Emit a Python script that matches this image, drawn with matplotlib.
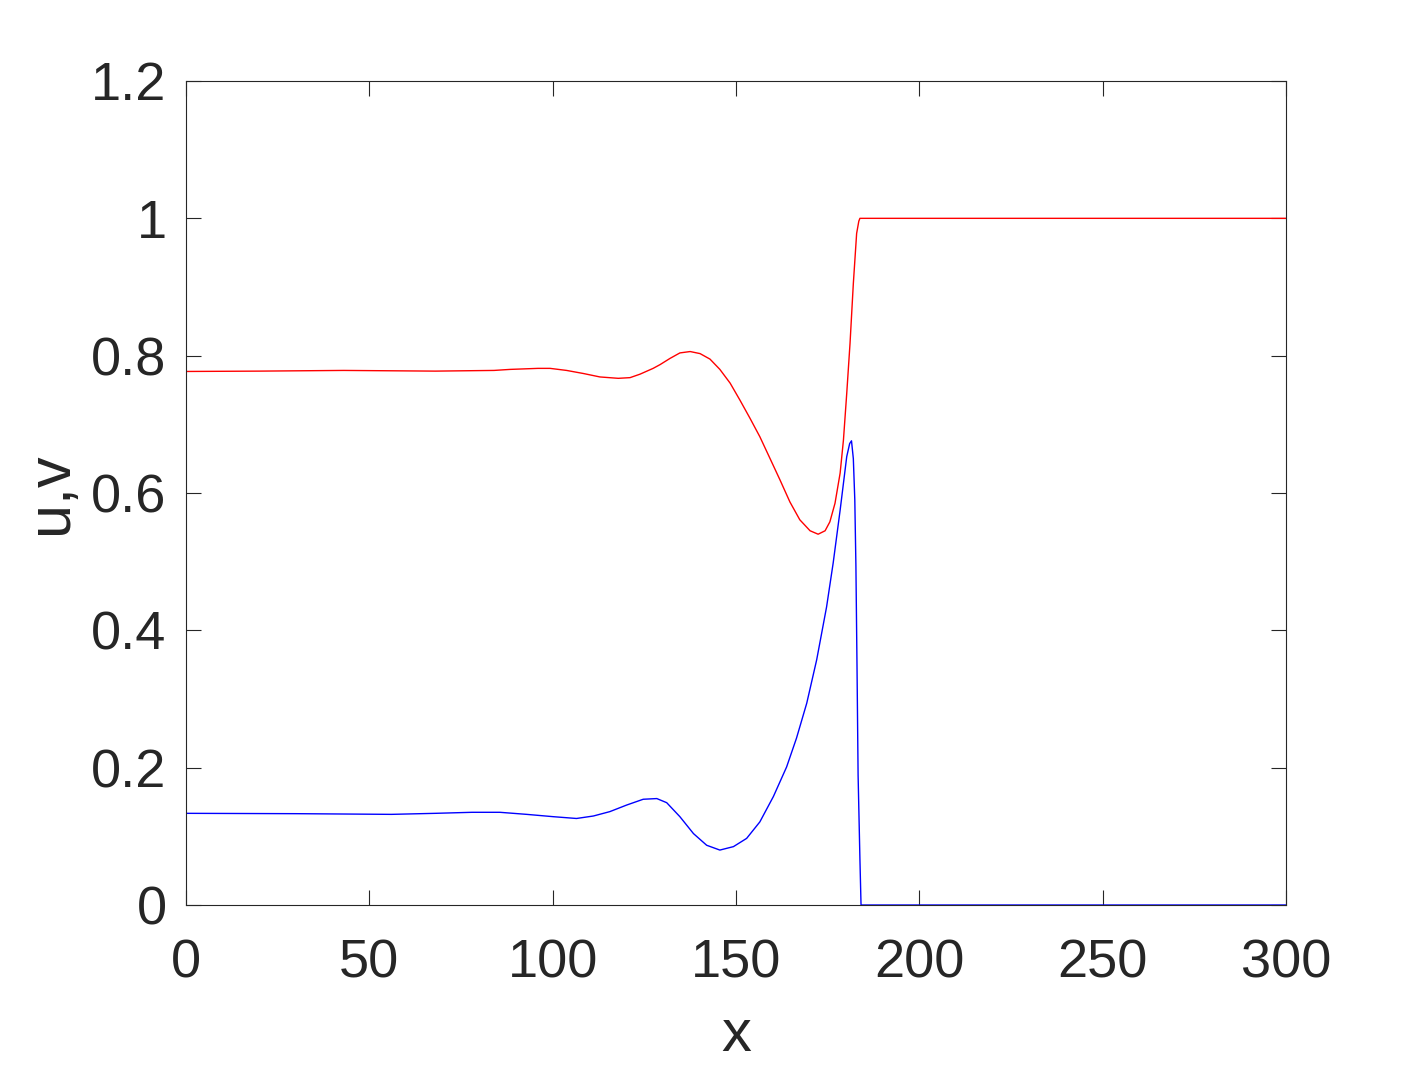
import matplotlib
matplotlib.use("Agg")
import matplotlib.pyplot as plt

# red curve (v)
x_red = [0, 20, 43, 68, 84, 88.4, 96, 99.3, 103.8, 108.4, 112.9, 117.9, 121.1, 123.8, 127.4, 129.3,
         132.0, 134.7, 137.5, 140.2, 142.9, 145.6, 148.4, 151.1, 153.8, 156.5, 159.3, 162.0, 164.7,
         167.4, 170.2, 172.4, 174.3, 175.6, 177.0, 178.4, 179.3, 180.2, 181.1, 182.0, 182.9, 183.5,
         183.8, 200, 250, 300]
y_red = [0.777, 0.7775, 0.7785, 0.7775, 0.7785, 0.780, 0.7815, 0.7815, 0.7785, 0.774, 0.769, 0.767,
         0.768, 0.773, 0.7815, 0.787,
         0.796, 0.804, 0.806, 0.803, 0.795, 0.780, 0.760, 0.735, 0.709, 0.682, 0.650, 0.619, 0.587,
         0.561, 0.545, 0.540, 0.545, 0.558, 0.585, 0.629, 0.677, 0.745, 0.818, 0.905, 0.978, 0.996,
         1.0, 1.0, 1.0, 1.0]

# blue curve (u)
x_blue = [0, 30, 56, 68, 78, 85.6, 92.9, 100.2, 106.5, 111.1, 115.6, 120.2, 124.7, 128.4, 131.1,
          134.7, 138.4, 142.0, 145.6, 149.3, 152.9, 156.5, 160.2, 163.8, 166.5, 169.3, 172.0, 174.7,
          176.5, 178.4, 180.2, 181.0, 181.5, 182.0, 182.4, 182.7, 183.0, 183.3, 183.8, 184.1, 200, 250, 300]
y_blue = [0.1335, 0.133, 0.132, 0.1335, 0.135, 0.135, 0.132, 0.1286, 0.126, 0.1296, 0.136,
          0.1456, 0.154, 0.155, 0.149,
          0.1286, 0.104, 0.087, 0.080, 0.085, 0.097, 0.121, 0.158, 0.201, 0.243, 0.294, 0.357, 0.434,
          0.498, 0.575, 0.653, 0.672, 0.676, 0.650, 0.590, 0.495, 0.349, 0.189, 0.066, 0.0, 0.0, 0.0, 0.0]

x_ticks = [0, 50, 100, 150, 200, 250, 300]
y_ticks = [0, 0.2, 0.4, 0.6, 0.8, 1.0, 1.2]
y_ticklabels = ["0", "0.2", "0.4", "0.6", "0.8", "1", "1.2"]

plt.rcParams['font.family'] = ['Liberation Sans', 'DejaVu Sans']
fig = plt.figure(figsize=(14.23, 10.67), dpi=100)
ax = fig.add_axes([186 / 1423, 1 - 905 / 1067, 1100 / 1423, 824 / 1067])

ax.plot(x_red, y_red, color='#ff0000', lw=1.0)
ax.plot(x_blue, y_blue, color='#0000ff', lw=1.0)

ax.set_xlim(0, 300)
ax.set_ylim(0, 1.2)
ax.set_xticks(x_ticks)
ax.set_yticks(y_ticks)
ax.set_yticklabels(y_ticklabels)
dark = '#262626'
ax.tick_params(direction='in', length=11, width=0.8, colors=dark, labelsize=39,
               top=True, right=True)
ax.tick_params(axis='x', pad=24)
ax.tick_params(axis='y', pad=14)
for s in ax.spines.values():
    s.set_color(dark)
    s.set_linewidth(0.8)
ax.set_xlabel('x', fontsize=43, color=dark, labelpad=14)
ax.set_ylabel('u,v', fontsize=44, color=dark, labelpad=8)

fig.savefig('out.png', dpi=100)
